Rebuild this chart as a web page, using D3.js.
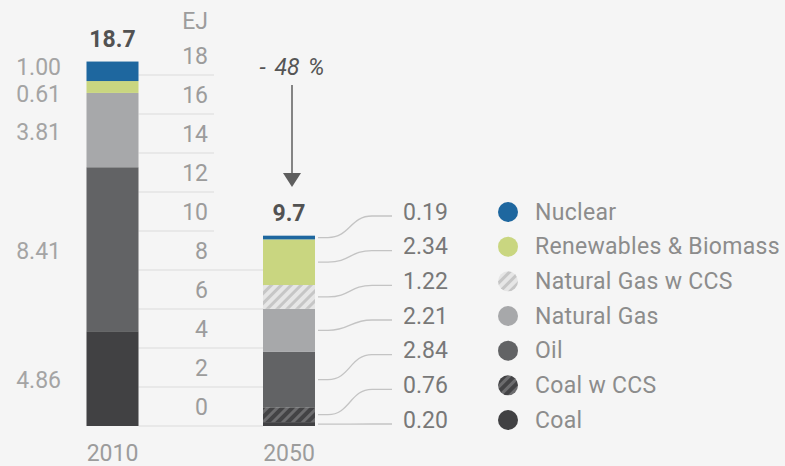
<!DOCTYPE html>
<html>
<head>
  <meta charset="utf-8">
  <style type="text/css">
    body { margin: 0; background: #f5f5f5; }
    svg { display: block; font-family: Roboto, "Liberation Sans", sans-serif; }
  </style>
  <script src="https://cdn.jsdelivr.net/npm/d3@7"></script>
</head>
<body>
  <div id="chart"></div>
  <script type="text/javascript">
    // data (EJ)
    var years = ["2010", "2050"];
    var categories = ["Coal", "Coal w CCS", "Oil", "Natural Gas", "Natural Gas w CCS", "Renewables & Biomass", "Nuclear"];
    var values2010 = [4.86, 0, 8.41, 3.81, 0, 0.61, 1.00];
    var values2050 = [0.20, 0.76, 2.84, 2.21, 1.22, 2.34, 0.19];
    var totals = [18.7, 9.7];
    var yTicks = [0, 2, 4, 6, 8, 10, 12, 14, 16, 18];
    var unitLabel = "EJ";
    var changeLabel = "- 48 %";

    var width = 785, height = 466;

    var svg = d3.select("#chart").append("svg")
        .attr("width", width)
        .attr("height", height);

    svg.append("rect").attr("width", width).attr("height", height).attr("fill", "#f5f5f5");

    // hatch patterns for the CCS variants
    var defs = svg.append("defs");
    function hatch(id, base, stripe) {
      var p = defs.append("pattern")
          .attr("id", id)
          .attr("patternUnits", "userSpaceOnUse")
          .attr("width", 7).attr("height", 7)
          .attr("patternTransform", "rotate(45)");
      p.append("rect").attr("width", 7).attr("height", 7).attr("fill", base);
      p.append("rect").attr("width", 3).attr("height", 7).attr("fill", stripe);
    }
    hatch("hatchLight", "#e6e6e6", "#c6c6c6");
    hatch("hatchDark", "#434345", "#6c6c6e");

    var color = {
      "Coal": "#414143",
      "Coal w CCS": "url(#hatchDark)",
      "Oil": "#626365",
      "Natural Gas": "#a7a8aa",
      "Natural Gas w CCS": "url(#hatchLight)",
      "Renewables & Biomass": "#c9d680",
      "Nuclear": "#1e679f"
    };

    var y = d3.scaleLinear().domain([0, 20]).range([426, 36]);
    var x = d3.scalePoint().domain(years).range([112.5, 289]);
    var barW = 52;

    var rows = years.map(function(yr, i) {
      var r = { year: yr };
      var vals = i === 0 ? values2010 : values2050;
      categories.forEach(function(c, j) { r[c] = vals[j]; });
      return r;
    });
    var series = d3.stack().keys(categories)(rows);

    // gridlines, long ones reach the 2050 bar
    svg.append("g").selectAll("line")
      .data(yTicks)
      .join("line")
        .attr("x1", x("2010") + barW / 2)
        .attr("x2", function(d) { return d < totals[1] ? x("2050") - barW / 2 : 214; })
        .attr("y1", function(d) { return y(d); })
        .attr("y2", function(d) { return y(d); })
        .attr("stroke", "#e3e3e3")
        .attr("stroke-width", 1.5);

    // tick labels sit above their line
    svg.append("g").selectAll("text")
      .data(yTicks)
      .join("text")
        .attr("x", 208)
        .attr("y", function(d) { return y(d) - 19; })
        .attr("text-anchor", "end")
        .attr("dominant-baseline", "central")
        .style("font-size", "23px")
        .attr("fill", "#9c9c9c")
        .text(function(d) { return d; });

    svg.append("text")
      .attr("x", 208).attr("y", y(20) - 15)
      .attr("text-anchor", "end").attr("dominant-baseline", "central")
      .style("font-size", "23px")
      .attr("fill", "#9c9c9c")
      .text(unitLabel);

    // stacked bars
    svg.append("g").selectAll("g")
      .data(series)
      .join("g")
        .attr("fill", function(s) { return color[s.key]; })
      .selectAll("rect")
      .data(function(s) { return s; })
      .join("rect")
        .attr("x", function(d) { return x(d.data.year) - barW / 2; })
        .attr("y", function(d) { return y(d[1]); })
        .attr("width", barW)
        .attr("height", function(d) { return y(d[0]) - y(d[1]); });

    // totals
    svg.append("g").selectAll("text")
      .data(years)
      .join("text")
        .attr("x", function(d) { return x(d); })
        .attr("y", function(d, i) { return y(d3.sum(i === 0 ? values2010 : values2050)) - 22; })
        .attr("text-anchor", "middle").attr("dominant-baseline", "central")
        .style("font-size", "23px").style("font-weight", "bold")
        .attr("fill", "#525252")
        .text(function(d, i) { return totals[i]; });

    // year labels
    svg.append("g").selectAll("text")
      .data(years)
      .join("text")
        .attr("x", function(d) { return x(d); })
        .attr("y", y(0) + 27)
        .attr("text-anchor", "middle").attr("dominant-baseline", "central")
        .style("font-size", "23px")
        .attr("fill", "#9c9c9c")
        .text(function(d) { return d; });

    // 2010 value labels on the left, pushed apart when segments are thin
    var left = series
      .map(function(s) { var d = s[0]; return { v: d.data[s.key], y: y((d[0] + d[1]) / 2) }; })
      .filter(function(d) { return d.v > 0; })
      .sort(function(a, b) { return b.y - a.y; });
    for (var k = 1; k < left.length; k++) {
      var gap = left[k - 1].y - left[k].y;
      if (gap < 27) {
        var shift = (27 - gap) / 2;
        left[k - 1].y += shift;
        left[k].y -= shift;
      }
    }
    svg.append("g").selectAll("text")
      .data(left)
      .join("text")
        .attr("x", 61)
        .attr("y", function(d) { return d.y + 2; })
        .attr("text-anchor", "end").attr("dominant-baseline", "central")
        .style("font-size", "23px")
        .attr("fill", "#a4a4a4")
        .text(function(d) { return d3.format(".2f")(d.v); });

    // 2050 labels with connectors, legend rows alongside
    var rowY = d3.scalePoint().domain(categories.slice().reverse()).range([212, 420]);
    var right = series.map(function(s) {
      var d = s[1];
      return { key: s.key, v: d.data[s.key], ym: y((d[0] + d[1]) / 2), yl: rowY(s.key) };
    });

    var x0 = x("2050") + barW / 2 + 3, x1 = 392;
    svg.append("g").selectAll("path")
      .data(right)
      .join("path")
        .attr("fill", "none")
        .attr("stroke", "#c4c4c4")
        .attr("stroke-width", 1.3)
        .attr("d", function(d) {
          var ye = d.yl + 4;
          return "M" + x0 + "," + d.ym + "L" + (x0 + 10) + "," + d.ym +
            "C" + (x0 + 32) + "," + d.ym + " " + (x1 - 42) + "," + ye + " " + (x1 - 20) + "," + ye +
            "L" + x1 + "," + ye;
        });

    svg.append("g").selectAll("text")
      .data(right)
      .join("text")
        .attr("x", 403)
        .attr("y", function(d) { return d.yl; })
        .attr("dominant-baseline", "central")
        .style("font-size", "23px")
        .attr("fill", "#787878")
        .text(function(d) { return d3.format(".2f")(d.v); });

    var legend = svg.append("g").selectAll("g")
      .data(right)
      .join("g")
        .attr("transform", function(d) { return "translate(508," + d.yl + ")"; });
    legend.append("circle")
      .attr("r", 10)
      .attr("fill", function(d) { return color[d.key]; });
    legend.append("text")
      .attr("x", 27)
      .attr("dominant-baseline", "central")
      .style("font-size", "23px")
      .style("letter-spacing", "0.3px")
      .attr("fill", "#8c8c8c")
      .text(function(d) { return d.key; });

    // change annotation
    var ax = x("2050") + 3;
    svg.append("text")
      .attr("x", ax).attr("y", 67)
      .attr("text-anchor", "middle").attr("dominant-baseline", "central")
      .style("font-size", "23px").style("font-style", "italic")
      .style("word-spacing", "3px")
      .attr("fill", "#555555")
      .text(changeLabel);
    svg.append("line")
      .attr("x1", ax).attr("x2", ax)
      .attr("y1", 85).attr("y2", 174)
      .attr("stroke", "#5e5e5e").attr("stroke-width", 1.5);
    svg.append("path")
      .attr("d", "M" + (ax - 9) + ",173L" + (ax + 9) + ",173L" + ax + ",187Z")
      .attr("fill", "#5e5e5e");
  </script>
</body>
</html>
